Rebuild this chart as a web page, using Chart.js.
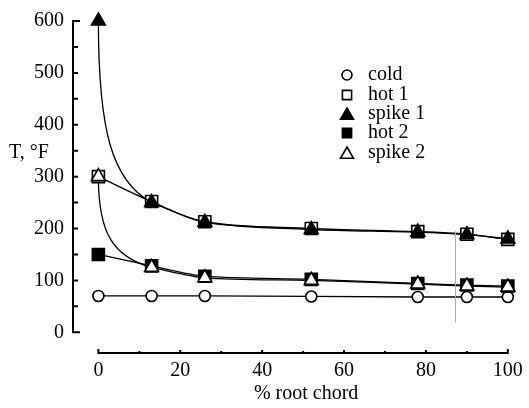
<!DOCTYPE html>
<html>
<head>
<meta charset="utf-8">
<script src="https://cdn.jsdelivr.net/npm/chart.js"></script>
<style>
  html, body { margin: 0; padding: 0; background: #fff; }
  canvas { display: block; }
</style>
</head>
<body>
<canvas id="c" width="529" height="408"></canvas>
<script>
// ---- data ----
const xPositions = [0, 13, 26, 52, 78, 90, 100];
const coldT   = [70, 70, 70, 69, 68, 68, 68];
const hot1T   = [300, 252, 213, 200, 194, 189, 179];
const spike1T = [600, 250, 212, 198, 193, 188, 180];
const hot2T   = [150, 128, 108, 102, 94, 91, 89];
const spike2T = [300, 125, 105, 100, 93, 89, 87];
const seriesNames = ['cold', 'hot 1', 'spike 1', 'hot 2', 'spike 2'];
const xTickLabels = [0, 20, 40, 60, 80, 100];
const yTickLabels = [0, 100, 200, 300, 400, 500, 600];
const xAxisTitle = '% root chord';
const yAxisTitle = 'T, °F';
const refLineX = 87;          // faint vertical line in the original
const refLineY = [20, 195];

const FONT = '"Liberation Serif", "Times New Roman", serif';

function pts(vals) { return xPositions.map((x, i) => ({x: x, y: vals[i]})); }

const styles = [
  {style: 'circle',   fill: '#fff', r: 5.5, tension: 0,   decay: false},
  {style: 'rect',     fill: '#fff', r: 8.5, tension: 0.35, decay: false},
  {style: 'triangle', fill: '#000', r: 8,   tension: 0.3, decay: true},
  {style: 'rect',     fill: '#000', r: 8.5, tension: 0.3, decay: false},
  {style: 'triangle', fill: '#fff', r: 8,   tension: 0.3, decay: true}
];
const allSeries = [coldT, hot1T, spike1T, hot2T, spike2T];

const datasets = allSeries.map((vals, i) => ({
  label: seriesNames[i],
  data: pts(vals),
  borderColor: '#000',
  borderWidth: 1.3,
  tension: styles[i].tension,
  pointStyle: styles[i].style,
  pointRadius: styles[i].r,
  pointHoverRadius: styles[i].r,
  pointBackgroundColor: styles[i].fill,
  pointBorderColor: '#000',
  pointBorderWidth: 1.6,
  fill: false,
  clip: false,
  order: 5 - i,
  decayStart: styles[i].decay
}));

const framePlugin = {
  id: 'frame',
  beforeDatasetsDraw(chart) {
    // steep exponential-like first segment for the spike curves
    chart.data.datasets.forEach((ds, i) => {
      if (!ds.decayStart) return;
      const meta = chart.getDatasetMeta(i);
      meta.dataset.updateControlPoints(chart.chartArea, 'x');
      const p = meta.data;
      const p0 = p[0], p1 = p[1], p2 = p[2];
      const dx = p1.x - p0.x, dy = p1.y - p0.y;
      p0.cp2x = p0.x; p0.cp2y = p0.y + 0.6 * dy;
      p1.cp1x = p0.x + 0.25 * dx; p1.cp1y = p0.y + 0.88 * dy;
      p1.cp2x = p1.x + 0.3 * (p2.x - p1.x); p1.cp2y = p1.y + 0.3 * (p2.y - p1.y);
    });
  },
  afterDraw(chart) {
    const ctx = chart.ctx;
    const xs = chart.scales.x, ys = chart.scales.y;
    const area = chart.chartArea;
    ctx.save();
    ctx.strokeStyle = '#000';
    ctx.lineCap = 'butt';
    // y axis
    const ax = area.left;
    const y0 = ys.getPixelForValue(0), y600 = ys.getPixelForValue(600);
    ctx.lineWidth = 2;
    ctx.beginPath();
    ctx.moveTo(ax, y0 + 1); ctx.lineTo(ax, y600 - 1);
    for (let v = 0; v <= 600; v += 50) {
      const py = ys.getPixelForValue(v);
      const len = (v === 0 || v === 600) ? 7 : 5;
      ctx.moveTo(ax, py); ctx.lineTo(ax + len, py);
    }
    ctx.stroke();
    // x axis
    const ay = area.bottom;
    const x0 = xs.getPixelForValue(0), x100 = xs.getPixelForValue(100);
    ctx.beginPath();
    ctx.moveTo(x0 - 1, ay); ctx.lineTo(x100 + 1, ay);
    for (let v = 0; v <= 100; v += 10) {
      const px = xs.getPixelForValue(v);
      const len = (v === 0 || v === 100) ? 4 : (v % 20 === 0 ? 3 : 2);
      ctx.moveTo(px, ay); ctx.lineTo(px, ay - len);
    }
    ctx.stroke();
    // faint vertical line
    ctx.strokeStyle = '#aaa';
    ctx.lineWidth = 1;
    ctx.beginPath();
    const rx = Math.round(xs.getPixelForValue(refLineX)) + 0.5;
    ctx.moveTo(rx, ys.getPixelForValue(refLineY[1]));
    ctx.lineTo(rx, ys.getPixelForValue(refLineY[0]));
    ctx.stroke();
    // axis titles
    ctx.fillStyle = '#000';
    ctx.font = '20px ' + FONT;
    ctx.textAlign = 'center';
    ctx.textBaseline = 'middle';
    ctx.fillText(xAxisTitle, xs.getPixelForValue(50) + 3, 394);
    ctx.textAlign = 'left';
    ctx.fillText(yAxisTitle, 9, ys.getPixelForValue(350) + 2);
    // legend
    const lx = 347, tx = 368, rowY = [75, 95, 114, 133, 153];
    const legR = [5, 6.5, 7.5, 6.5, 7.5];
    seriesNames.forEach((name, i) => {
      ctx.fillStyle = styles[i].fill;
      ctx.strokeStyle = '#000';
      ctx.lineWidth = 1.6;
      Chart.helpers.drawPoint(ctx, {pointStyle: styles[i].style, radius: legR[i], borderWidth: 1.6, rotation: 0}, lx, rowY[i] + (styles[i].style === 'triangle' ? 1.5 : 0));
      ctx.fillStyle = '#000';
      ctx.textAlign = 'left';
      ctx.fillText(name, tx, rowY[i]);
    });
    ctx.restore();
  }
};

new Chart(document.getElementById('c'), {
  type: 'line',
  data: { datasets: datasets },
  options: {
    responsive: false,
    animation: false,
    events: [],
    layout: { padding: { left: 0, top: 15, right: 9, bottom: 0 } },
    plugins: { legend: { display: false }, tooltip: { enabled: false } },
    scales: {
      x: {
        type: 'linear',
        min: -6.2, max: 101.8,
        grid: { display: false, drawTicks: false },
        border: { display: false },
        afterBuildTicks: (s) => { s.ticks = xTickLabels.map(v => ({value: v})); },
        afterFit: (s) => { s.height = 55; },
        ticks: { color: '#000', padding: 6, maxRotation: 0, autoSkip: false, font: { family: FONT, size: 20 } }
      },
      y: {
        type: 'linear',
        min: -40, max: 600,
        grid: { display: false, drawTicks: false },
        border: { display: false },
        afterBuildTicks: (s) => { s.ticks = yTickLabels.map(v => ({value: v})); },
        afterFit: (s) => { s.width = 73; },
        ticks: { color: '#000', padding: 9, autoSkip: false, font: { family: FONT, size: 20 } }
      }
    }
  },
  plugins: [framePlugin]
});
</script>
</body>
</html>
